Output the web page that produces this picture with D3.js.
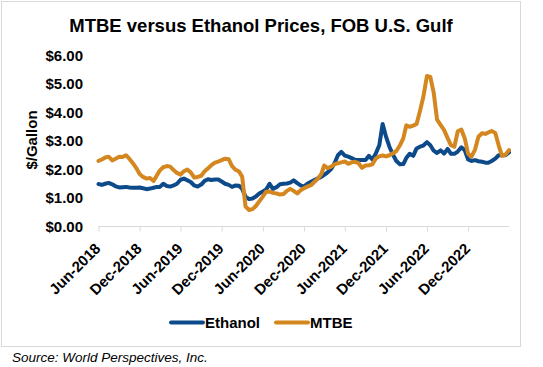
<!DOCTYPE html>
<html><head><meta charset="utf-8">
<script src="https://cdn.jsdelivr.net/npm/d3@7"></script>
<style>
html,body{margin:0;padding:0;background:#fff;}
svg{display:block;font-family:"Liberation Sans",Arial,sans-serif;}
</style></head>
<body><svg id="chart" width="543" height="367"></svg>
<script>
const title = "MTBE versus Ethanol Prices, FOB U.S. Gulf";
const yAxisTitle = "$/Gallon";
const source = "Source: World Perspectives, Inc.";
const seriesNames = ["Ethanol", "MTBE"];
const yTicks = [0, 1, 2, 3, 4, 5, 6];
const xTickDates = ["2018-06-01","2018-12-01","2019-06-01","2019-12-01","2020-06-01","2020-12-01","2021-06-01","2021-12-01","2022-06-01","2022-12-01"];
const xTickLabels = ["Jun-2018","Dec-2018","Jun-2019","Dec-2019","Jun-2020","Dec-2020","Jun-2021","Dec-2021","Jun-2022","Dec-2022"];
const xDomain = ["2018-06-01", "2023-06-01"];

const dates = [
"2018-06-01","2018-06-16","2018-07-01","2018-07-16","2018-08-01","2018-08-16","2018-09-01","2018-09-16","2018-10-01","2018-10-16","2018-11-01","2018-11-16","2018-12-01","2018-12-16",
"2019-01-01","2019-01-16","2019-02-01","2019-02-16","2019-03-01","2019-03-16","2019-04-01","2019-04-16","2019-05-01","2019-05-16","2019-06-01","2019-06-16","2019-07-01","2019-07-16","2019-08-01","2019-08-16","2019-09-01","2019-09-16","2019-10-01","2019-10-16","2019-11-01","2019-11-16","2019-12-01","2019-12-16",
"2020-01-01","2020-01-16","2020-02-01","2020-02-16","2020-03-01","2020-03-16","2020-04-01","2020-04-16","2020-05-01","2020-05-16","2020-06-01","2020-06-16","2020-07-01","2020-07-16","2020-08-01","2020-08-16","2020-09-01","2020-09-16","2020-10-01","2020-10-16","2020-11-01","2020-11-16","2020-12-01","2020-12-16",
"2021-01-01","2021-01-16","2021-02-01","2021-02-16","2021-03-01","2021-03-16","2021-04-01","2021-04-16","2021-05-01","2021-05-16","2021-06-01","2021-06-16","2021-07-01","2021-07-16","2021-08-01","2021-08-16","2021-09-01","2021-09-16","2021-10-01","2021-10-16","2021-11-01","2021-11-16","2021-12-01","2021-12-16",
"2022-01-01","2022-01-16","2022-02-01","2022-02-16","2022-03-01","2022-03-16","2022-04-01","2022-04-16","2022-05-01","2022-05-16","2022-06-01","2022-06-16","2022-07-01","2022-07-16","2022-08-01","2022-08-16","2022-09-01","2022-09-16","2022-10-01","2022-10-16","2022-11-01","2022-11-16","2022-12-01","2022-12-16",
"2023-01-01","2023-01-16","2023-02-01","2023-02-16","2023-03-01","2023-03-16","2023-04-01","2023-04-16","2023-05-01","2023-05-16","2023-06-01"
];

const ethanol = [
1.49,1.46,1.50,1.53,1.48,1.41,1.37,1.38,1.39,1.37,1.36,1.36,1.37,1.34,
1.31,1.33,1.36,1.39,1.39,1.50,1.42,1.40,1.44,1.50,1.64,1.68,1.62,1.56,1.44,1.40,1.47,1.60,1.66,1.63,1.65,1.65,1.58,1.50,
1.46,1.39,1.44,1.43,1.32,1.05,0.96,0.98,1.05,1.16,1.23,1.30,1.50,1.32,1.38,1.48,1.50,1.51,1.54,1.62,1.52,1.44,1.40,1.50,
1.57,1.63,1.69,1.74,1.81,1.90,2.02,2.22,2.50,2.62,2.49,2.45,2.40,2.34,2.33,2.33,2.33,2.48,2.35,2.55,2.85,3.60,3.15,2.80,
2.52,2.30,2.18,2.19,2.40,2.55,2.48,2.74,2.80,2.84,2.96,2.85,2.66,2.58,2.67,2.56,2.72,2.55,2.55,2.63,2.78,2.68,2.35,2.30,
2.33,2.29,2.27,2.24,2.24,2.30,2.38,2.50,2.50,2.50,2.60
];

const mtbe = [
2.30,2.35,2.42,2.45,2.32,2.38,2.45,2.44,2.50,2.38,2.22,2.05,1.84,1.74,
1.68,1.70,1.60,1.80,1.97,2.08,2.12,2.10,1.98,1.88,1.82,1.94,2.00,1.90,1.72,1.74,1.78,1.94,2.04,2.15,2.24,2.28,2.33,2.38,
2.36,2.12,1.99,1.93,1.75,0.70,0.58,0.61,0.72,0.88,1.05,1.22,1.23,1.18,1.16,1.12,1.14,1.25,1.32,1.25,1.16,1.27,1.34,1.40,
1.45,1.56,1.68,1.84,2.14,2.05,2.10,2.18,2.22,2.25,2.28,2.20,2.25,2.27,2.22,2.06,2.14,2.15,2.18,2.38,2.46,2.49,2.46,2.50,
2.57,2.65,2.85,3.10,3.55,3.50,3.54,3.60,4.05,4.55,5.28,5.25,4.70,3.75,3.56,3.39,3.10,2.85,2.80,3.34,3.40,3.10,2.55,2.45,
2.70,3.15,3.27,3.25,3.30,3.35,3.28,2.85,2.48,2.52,2.68
];

const colors = {Ethanol: "#0D4A8A", MTBE: "#D4871F"};

const parse = d3.timeParse("%Y-%m-%d");
const svg = d3.select("#chart");

// border
svg.append("rect").attr("x", 1.5).attr("y", 1.5).attr("width", 519).attr("height", 345)
  .attr("fill", "#fff").attr("stroke", "#d9d9d9").attr("stroke-width", 1);

const x = d3.scaleTime().domain(xDomain.map(parse)).range([98.5, 509]);
const y = d3.scaleLinear().domain([0, 6]).range([226.5, 55.5]);

// title
svg.append("text").attr("x", 261).attr("y", 31.5).attr("text-anchor", "middle")
  .attr("font-size", 18.5).attr("font-weight", "bold").attr("fill", "#000").text(title);

// y axis labels
const yAxis = d3.axisLeft(y).tickValues(yTicks).tickSize(0).tickPadding(0)
  .tickFormat(d => "$" + d3.format(".2f")(d));
const yg = svg.append("g").attr("transform", "translate(83,0)").call(yAxis);
yg.select(".domain").remove();
yg.selectAll("text").attr("font-size", 15).attr("font-weight", "bold").attr("fill", "#000")
  .attr("font-family", "Liberation Sans, Arial, sans-serif");

// y axis title
svg.append("text").attr("transform", "translate(37,140) rotate(-90)").attr("text-anchor", "middle")
  .attr("font-size", 15).attr("font-weight", "bold").attr("fill", "#000").text(yAxisTitle);

// x axis
const xAxis = d3.axisBottom(x).tickValues(xTickDates.map(parse)).tickSize(5).tickFormat("");
const xg = svg.append("g").attr("transform", "translate(0,226.5)").call(xAxis);
xg.select(".domain").attr("stroke", "#d9d9d9").attr("d", "M" + x.range()[0] + ",0H" + x.range()[1]);
xg.selectAll(".tick line").attr("stroke", "#d9d9d9");
xg.selectAll(".tick").append("text")
  .attr("transform", "translate(2.5,23) rotate(-45)")
  .attr("text-anchor", "end")
  .attr("font-size", 15).attr("font-weight", "bold").attr("fill", "#000")
  .attr("font-family", "Liberation Sans, Arial, sans-serif")
  .text((d, i) => xTickLabels[i]);

// lines
const line = d3.line().x(d => x(d.date)).y(d => y(d.v)).curve(d3.curveLinear);
const seriesData = [
  {name: "Ethanol", values: dates.map((d, i) => ({date: parse(d), v: ethanol[i]}))},
  {name: "MTBE", values: dates.map((d, i) => ({date: parse(d), v: mtbe[i]}))}
];
svg.append("g").selectAll("path").data(seriesData).join("path")
  .attr("d", s => line(s.values)).attr("fill", "none")
  .attr("stroke", s => colors[s.name]).attr("stroke-width", 4)
  .attr("stroke-linejoin", "round").attr("stroke-linecap", "round");

// legend
const legendItems = [{name: "Ethanol", lx: 171, tx: 205}, {name: "MTBE", lx: 276, tx: 310}];
const lg = svg.append("g");
legendItems.forEach(it => {
  lg.append("line").attr("x1", it.lx).attr("x2", it.lx + 32).attr("y1", 322.5).attr("y2", 322.5)
    .attr("stroke", colors[it.name]).attr("stroke-width", 4).attr("stroke-linecap", "round");
  lg.append("text").attr("x", it.tx).attr("y", 328).attr("font-size", 15).attr("font-weight", "bold")
    .attr("fill", "#000").text(it.name);
});

// source
svg.append("text").attr("x", 12).attr("y", 362).attr("font-size", 13.5).attr("font-style", "italic")
  .attr("fill", "#000").text(source);
</script>
</body></html>
